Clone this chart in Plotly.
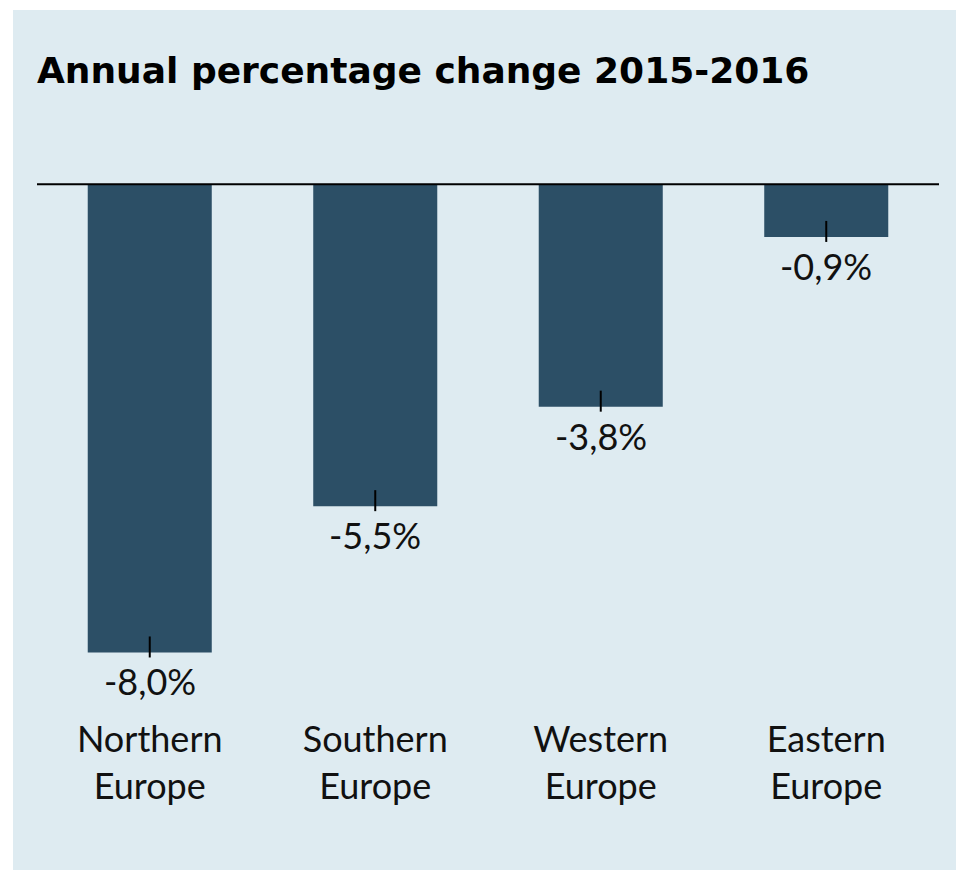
import plotly.graph_objects as go

# Annual change by European region, 2015-2016 (percent)
regions = ["Northern<br>Europe", "Southern<br>Europe", "Western<br>Europe", "Eastern<br>Europe"]
changes = [-8.0, -5.5, -3.8, -0.9]
value_labels = ["-8,0%", "-5,5%", "-3,8%", "-0,9%"]

W, H = 956, 870
PANEL = "#deebf1"
BAR = "#2c4f66"

# plot area geometry (pixels)
L, R = 37, 17
T = 155
Y_MIN, Y_MAX = -9.0, 0.5
PX_PER_UNIT = 58.5
plot_h = (Y_MAX - Y_MIN) * PX_PER_UNIT
B = H - T - plot_h
plot_w = W - L - R

fig = go.Figure()
fig.add_trace(go.Bar(
    x=list(range(len(regions))),
    y=changes,
    marker=dict(color=BAR, line=dict(width=0)),
    width=0.55,
    hoverinfo="skip",
))

shapes = []
# light panel behind everything
shapes.append(dict(
    type="rect", xref="paper", yref="paper", layer="below",
    x0=(13 - L) / plot_w, x1=(W - L) / plot_w + 0.01,
    y0=-B / plot_h - 0.01, y1=(H - 10 - B) / plot_h,
    fillcolor=PANEL, line=dict(width=0),
))
# zero baseline
shapes.append(dict(
    type="line", xref="paper", yref="y", x0=0, x1=1, y0=0, y1=0,
    line=dict(color="#000000", width=2),
))
# small tick marks at each bar end
for i, v in enumerate(changes):
    shapes.append(dict(
        type="line", xref="x", yref="y", x0=i, x1=i,
        y0=v + 16 / PX_PER_UNIT, y1=v - 5 / PX_PER_UNIT,
        line=dict(color="#000000", width=2),
    ))

annotations = []
for i, (v, t) in enumerate(zip(changes, value_labels)):
    annotations.append(dict(
        x=i, y=v, xref="x", yref="y", text=t, showarrow=False,
        yanchor="middle", yshift=-29,
        font=dict(family="Lato", size=36, color="#111111"),
    ))

fig.update_layout(
    width=W, height=H,
    margin=dict(l=L, r=R, t=T, b=B, pad=0),
    paper_bgcolor="#ffffff",
    plot_bgcolor="rgba(0,0,0,0)",
    showlegend=False,
    bargap=0.45,
    shapes=shapes,
    annotations=annotations,
    title=dict(
        text="<b>Annual percentage change 2015-2016</b>",
        xref="container", yref="container",
        x=37 / W, xanchor="left",
        y=1 - 70 / H, yanchor="middle",
        font=dict(family="DejaVu Sans", size=36, color="#000000"),
    ),
    xaxis=dict(
        range=[-0.5, len(regions) - 0.5],
        tickmode="array",
        tickvals=list(range(len(regions))),
        ticktext=regions,
        showgrid=False, zeroline=False, showline=False, ticks="",
        ticklabelstandoff=4,
        tickfont=dict(family="Lato", size=36, color="#111111"),
    ),
    yaxis=dict(
        range=[Y_MIN, Y_MAX],
        showgrid=False, zeroline=False, showline=False,
        showticklabels=False, ticks="",
    ),
)

fig.write_html("out.html")
